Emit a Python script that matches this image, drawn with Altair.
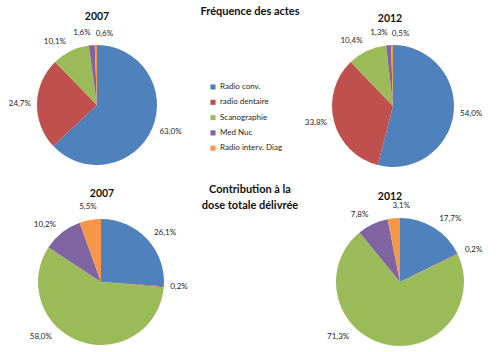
import altair as alt
import pandas as pd

categories = ["Radio conv.", "radio dentaire", "Scanographie", "Med Nuc", "Radio interv. Diag"]
colors = ["#4F81BD", "#C0504D", "#9BBB59", "#8064A2", "#F79646"]

freq_2007 = [63.0, 24.7, 10.1, 1.6, 0.6]
freq_2012 = [54.0, 33.8, 10.4, 1.3, 0.5]
dose_2007 = [26.1, 0.2, 58.0, 10.2, 5.5]
dose_2012 = [17.7, 0.2, 71.3, 7.8, 3.1]

pie_titles = ["2007", "2012", "2007", "2012"]
group_titles = ["Fréquence des actes", "Contribution à la", "dose totale délivrée"]

series = {"f2007": freq_2007, "f2012": freq_2012, "d2007": dose_2007, "d2012": dose_2012}
rows = []
for key, vals in series.items():
    for i, (c, v) in enumerate(zip(categories, vals)):
        rows.append({"pie": key, "cat": c, "idx": i, "value": v,
                     "label": f"{v:.1f}".replace(".", ",") + "%"})
df = pd.DataFrame(rows)

# layout: (key, center x, center y, radius, title x, title y)
layout = [
    ("f2007", 97, 105, 60, 97, 17),
    ("f2012", 393, 106, 61, 390, 19),
    ("d2007", 101, 282, 63, 102, 194),
    ("d2012", 400, 282, 64, 390, 197),
]
YLIM = 337  # lowest label position inside the chart area

FONT = "Lato"
layers = []
for n, (key, cx, cy, r, tx, ty) in enumerate(layout):
    base = alt.Chart(df).transform_filter(alt.datum.pie == key)
    arc = base.mark_arc(outerRadius=r).encode(
        theta=alt.Theta("value:Q", stack="normalize"),
        color=alt.Color("cat:N", scale=alt.Scale(domain=categories, range=colors),
                        legend=alt.Legend(title=None, orient="none", legendX=209, legendY=83,
                                          symbolType="square", symbolSize=26, labelFontSize=8,
                                          labelFont=FONT, labelColor="#262626", rowPadding=7.3,
                                          labelOffset=3, padding=0, symbolStrokeWidth=0)),
        order=alt.Order("idx:Q"),
        x=alt.value(cx), y=alt.value(cy),
    )
    txt = (base
           .transform_window(cum="sum(value)", sort=[alt.SortField("idx")], frame=[None, 0])
           .transform_joinaggregate(total="sum(value)")
           .transform_calculate(mid="2*PI*(datum.cum - datum.value/2)/datum.total")
           .transform_calculate(side="abs(sin(datum.mid)) >= 0.2")
           .transform_calculate(
               R=f"datum.side ? {r}+6+5*abs(cos(datum.mid)) : {r}+6+12*abs(sin(datum.mid))+5*abs(cos(datum.mid))",
               al="datum.side ? (sin(datum.mid) > 0 ? 'left' : 'right') : "
                  "(abs(sin(datum.mid))<0.12 ? (datum.idx==4 ? 'left' : (datum.value/datum.total<0.03 ? 'right' : 'center')) : 'center')")
           .transform_calculate(
               ang=f"({cy} - datum.R*cos(datum.mid)) > {YLIM} ? "
                   f"(sin(datum.mid) < 0 ? 2*PI - acos(({cy}-{YLIM})/datum.R) : acos(({cy}-{YLIM})/datum.R)) : datum.mid")
           .mark_text(font=FONT, fontSize=8, color="#262626", baseline="middle",
                      align={"expr": "datum.al"})
           .encode(theta=alt.Theta("ang:Q", scale=None, stack=False),
                   radius=alt.Radius("R:Q", scale=None),
                   text="label:N",
                   x=alt.value(cx), y=alt.value(cy)))
    title = alt.Chart(pd.DataFrame({"t": [pie_titles[n]]})).mark_text(
        font=FONT, fontSize=10.5, fontWeight="bold", color="#111", baseline="middle"
    ).encode(text="t:N", x=alt.value(tx), y=alt.value(ty))
    layers += [arc, txt, title]

for t, y in zip(group_titles, [12, 190, 206]):
    layers.append(alt.Chart(pd.DataFrame({"t": [t]})).mark_text(
        font=FONT, fontSize=11, fontWeight="bold", color="#111", baseline="middle"
    ).encode(text="t:N", x=alt.value(250), y=alt.value(y)))

chart = alt.layer(*layers).properties(
    width=500, height=352, autosize=alt.AutoSizeParams(type="none"), padding=0,
    background="white"
).configure_view(stroke=None)

chart.save("out.html", embed_options={"renderer": "svg", "actions": False})
